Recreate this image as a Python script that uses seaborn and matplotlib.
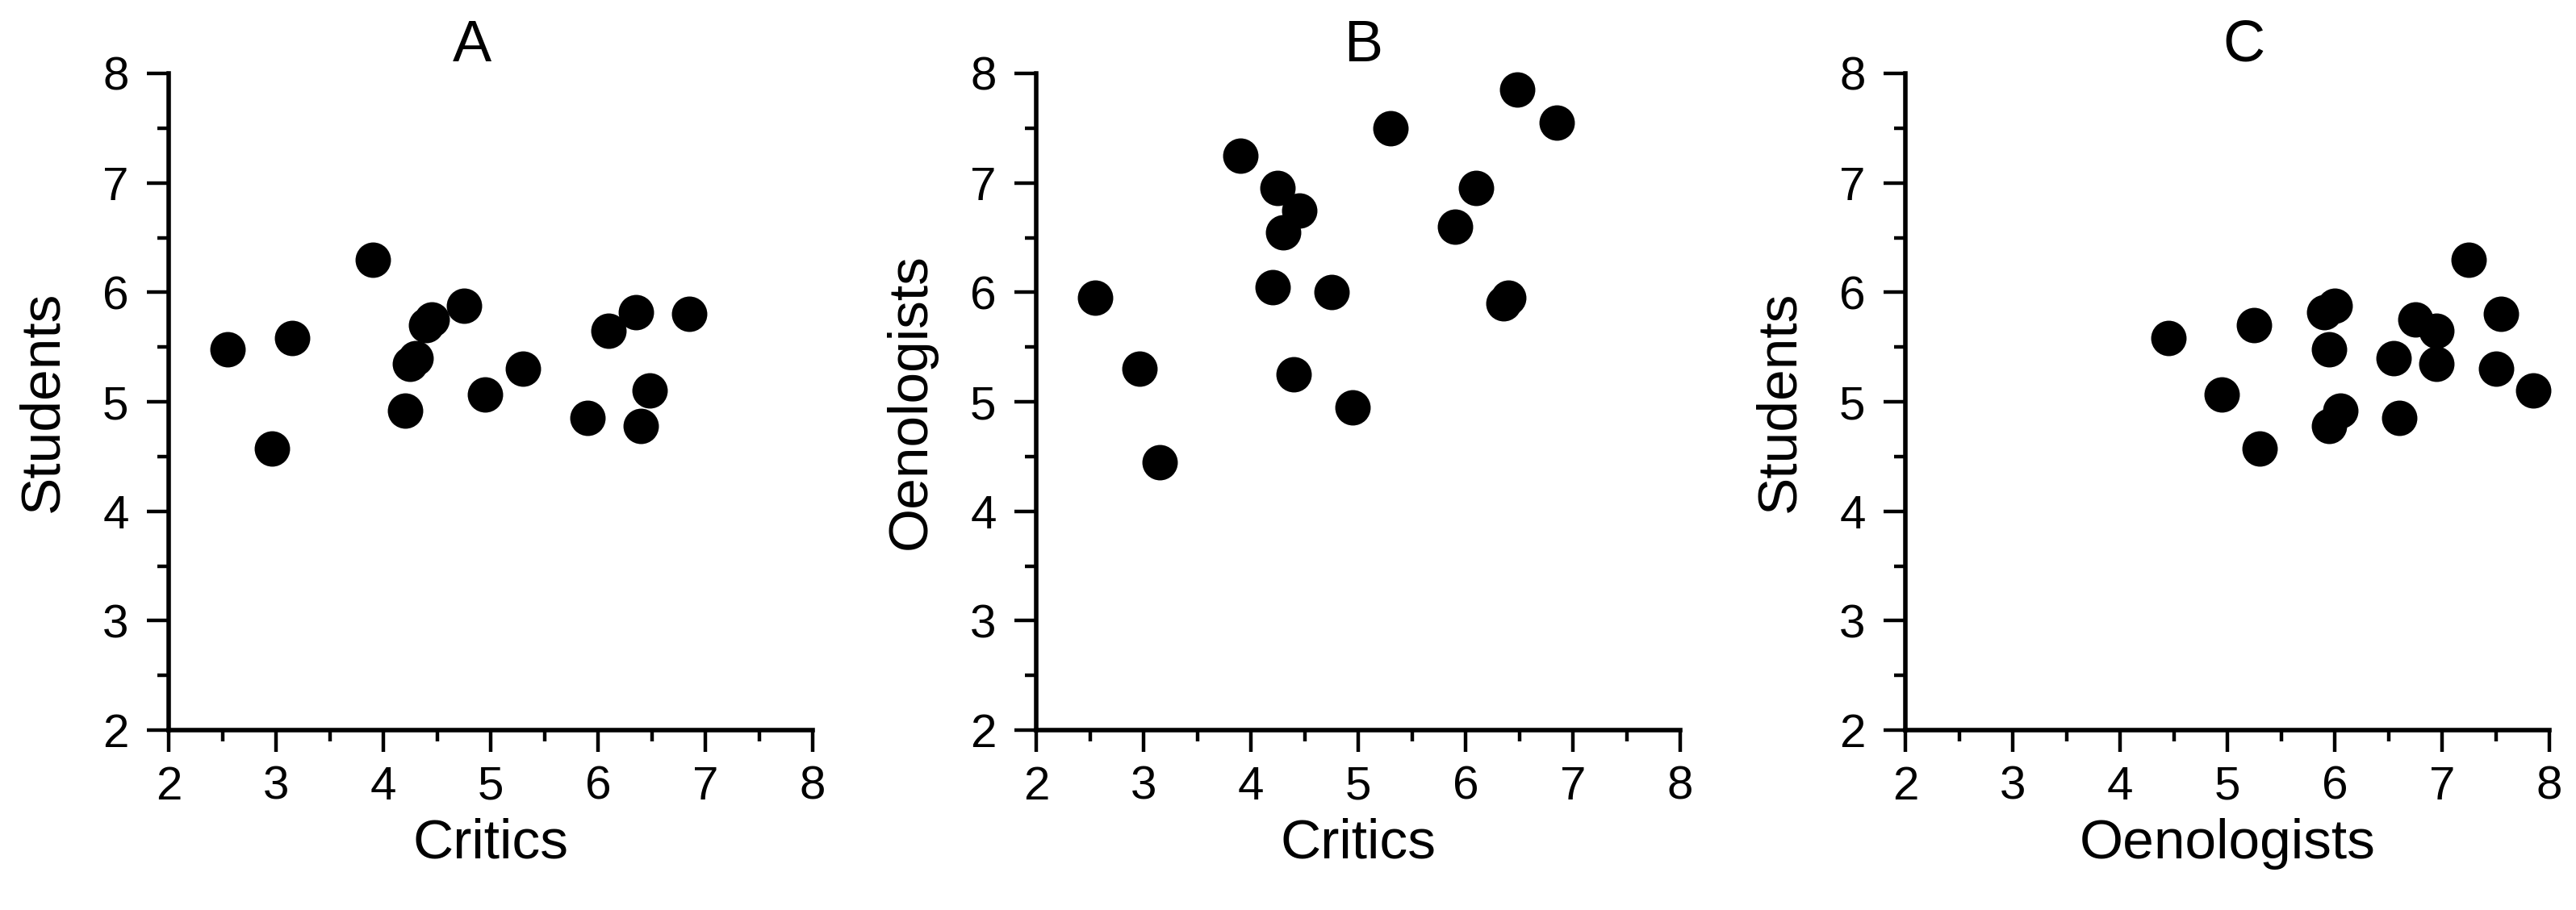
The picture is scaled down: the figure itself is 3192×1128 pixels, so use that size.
import numpy as np
import pandas as pd
import seaborn as sns
import matplotlib.pyplot as plt
from matplotlib import font_manager
from matplotlib.ticker import MultipleLocator

# scores for the 18 wines
critics = [2.55, 2.96, 3.15, 3.90, 4.20, 4.25, 4.30, 4.40, 4.45,
           4.75, 4.95, 5.30, 5.90, 6.10, 6.35, 6.40, 6.48, 6.85]
oenologists = [5.95, 5.30, 4.45, 7.25, 6.05, 6.95, 6.55, 5.25, 6.75,
               6.00, 4.95, 7.50, 6.60, 6.95, 5.90, 5.95, 7.85, 7.55]
students = [5.48, 4.57, 5.58, 6.30, 4.92, 5.35, 5.40, 5.70, 5.75,
            5.88, 5.07, 5.30, 4.85, 5.65, 5.82, 4.78, 5.10, 5.80]

df = pd.DataFrame({'Critics': critics, 'Oenologists': oenologists, 'Students': students})

panels = [('A', 'Critics', 'Students'),
          ('B', 'Critics', 'Oenologists'),
          ('C', 'Oenologists', 'Students')]
title_x = [0.471, 0.508, 0.525]

sns.set_style('ticks')

# the reference uses a condensed Arial-like face; use the narrow one if it is there
names = set(f.name for f in font_manager.fontManager.ttflist)
if 'Liberation Sans Narrow' in names:
    fam = 'Liberation Sans Narrow'
    tick_fs, label_fs, title_fs = 47, 57, 58
else:
    fam = 'Liberation Sans'
    tick_fs, label_fs, title_fs = 42, 50, 52
plt.rcParams['font.family'] = [fam, 'DejaVu Sans']
plt.rcParams['text.color'] = 'black'
plt.rcParams['axes.labelcolor'] = 'black'
plt.rcParams['xtick.color'] = 'black'
plt.rcParams['ytick.color'] = 'black'

fig = plt.figure(figsize=(31.92, 11.28), dpi=100)
lefts = [209, 1284, 2361]

for i, (ttl, xcol, ycol) in enumerate(panels):
    ax = fig.add_axes([lefts[i] / 3192, (1128 - 905) / 1128, 798 / 3192, 814 / 1128])
    sns.scatterplot(data=df, x=xcol, y=ycol, ax=ax, color='black', s=1000,
                    linewidth=0, clip_on=False)
    ax.set_xlim(2, 8)
    ax.set_ylim(2, 8)
    ax.xaxis.set_major_locator(MultipleLocator(1))
    ax.yaxis.set_major_locator(MultipleLocator(1))
    ax.xaxis.set_minor_locator(MultipleLocator(0.5))
    ax.yaxis.set_minor_locator(MultipleLocator(0.5))
    ax.tick_params(which='major', length=19.5, width=3.2, labelsize=tick_fs, color='black')
    ax.tick_params(which='minor', length=10, width=3.2, color='black')
    ax.tick_params(axis='x', which='major', pad=12)
    ax.tick_params(axis='y', which='major', pad=16)
    for side in ['top', 'right']:
        ax.spines[side].set_visible(False)
    for side in ['left', 'bottom']:
        ax.spines[side].set_linewidth(4)
        ax.spines[side].set_color('black')
    ax.set_xlabel(xcol, fontsize=label_fs, labelpad=8)
    ax.set_ylabel(ycol, fontsize=label_fs, labelpad=30)
    ax.set_title(ttl, fontsize=title_fs, x=title_x[i], pad=10)

fig.savefig('out.png', dpi=100)
